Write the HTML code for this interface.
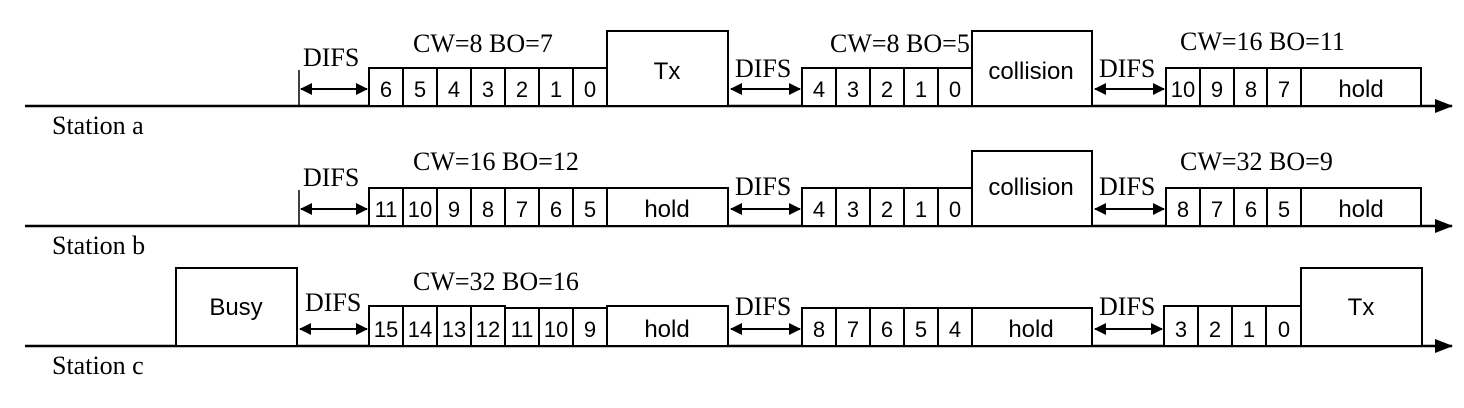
<!DOCTYPE html>
<html><head><meta charset="utf-8"><style>
html,body{margin:0;padding:0;background:#fff;}
svg{display:block}
.s{font-family:"Liberation Sans",sans-serif;font-size:22px;text-anchor:middle}
.b{font-size:24px}
.t{font-family:"Liberation Serif",serif;font-size:26px}
rect{fill:#fff;stroke:#000;stroke-width:2}
line{stroke:#000;stroke-width:2.5}
</style></head><body>
<svg width="1464" height="408" viewBox="0 0 1464 408" xmlns="http://www.w3.org/2000/svg">
<defs>
<marker id="ah" markerWidth="12" markerHeight="12" refX="11" refY="6" orient="auto" markerUnits="userSpaceOnUse"><path d="M0,0 L12,6 L0,12 z" fill="#000"/></marker>
<marker id="al" markerWidth="12" markerHeight="12" refX="11" refY="6" orient="auto-start-reverse" markerUnits="userSpaceOnUse"><path d="M0,0 L12,6 L0,12 z" fill="#000"/></marker>
<marker id="big" markerWidth="18" markerHeight="14" refX="17" refY="7" orient="auto" markerUnits="userSpaceOnUse"><path d="M0,0 L18,7 L0,14 z" fill="#000"/></marker>
</defs>

<!-- ROW A base 106 -->
<g>
<line x1="25" y1="106" x2="1452" y2="106" marker-end="url(#big)"/>
<text class="t" x="52" y="134">Station a</text>
<line x1="299" y1="70" x2="299" y2="106" style="stroke-width:1.5"/>
<line x1="301" y1="89" x2="367" y2="89" style="stroke-width:2" marker-start="url(#al)" marker-end="url(#ah)"/>
<text class="t" x="303" y="66">DIFS</text>
<text class="t" x="413" y="52">CW=8 BO=7</text>
<rect x="369" y="68" width="34" height="38"/><text class="s" x="386" y="97">6</text>
<rect x="403" y="68" width="34" height="38"/><text class="s" x="420" y="97">5</text>
<rect x="437" y="68" width="34" height="38"/><text class="s" x="454" y="97">4</text>
<rect x="471" y="68" width="34" height="38"/><text class="s" x="488" y="97">3</text>
<rect x="505" y="68" width="34" height="38"/><text class="s" x="522" y="97">2</text>
<rect x="539" y="68" width="34" height="38"/><text class="s" x="556" y="97">1</text>
<rect x="573" y="68" width="34" height="38"/><text class="s" x="590" y="97">0</text>
<rect x="607" y="31" width="121" height="75"/><text class="s b" x="667" y="79">Tx</text>
<line x1="731" y1="89" x2="800" y2="89" style="stroke-width:2" marker-start="url(#al)" marker-end="url(#ah)"/>
<text class="t" x="735" y="77">DIFS</text>
<text class="t" x="830" y="52">CW=8 BO=5</text>
<rect x="802" y="68" width="34" height="38"/><text class="s" x="819" y="97">4</text>
<rect x="836" y="68" width="34" height="38"/><text class="s" x="853" y="97">3</text>
<rect x="870" y="68" width="34" height="38"/><text class="s" x="887" y="97">2</text>
<rect x="904" y="68" width="34" height="38"/><text class="s" x="921" y="97">1</text>
<rect x="938" y="68" width="34" height="38"/><text class="s" x="955" y="97">0</text>
<rect x="972" y="31" width="120" height="75"/><text class="s b" x="1031" y="79">collision</text>
<line x1="1095" y1="89" x2="1164" y2="89" style="stroke-width:2" marker-start="url(#al)" marker-end="url(#ah)"/>
<text class="t" x="1099" y="77">DIFS</text>
<text class="t" x="1180" y="50">CW=16 BO=11</text>
<rect x="1166" y="68" width="34" height="38"/><text class="s" x="1183" y="97">10</text>
<rect x="1200" y="68" width="34" height="38"/><text class="s" x="1217" y="97">9</text>
<rect x="1234" y="68" width="33" height="38"/><text class="s" x="1251" y="97">8</text>
<rect x="1267" y="68" width="34" height="38"/><text class="s" x="1284" y="97">7</text>
<rect x="1301" y="68" width="120" height="38"/><text class="s b" x="1361" y="97">hold</text>
</g>

<!-- ROW B base 226 -->
<g>
<line x1="25" y1="226" x2="1452" y2="226" marker-end="url(#big)"/>
<text class="t" x="52" y="254">Station b</text>
<line x1="299" y1="190" x2="299" y2="226" style="stroke-width:1.5"/>
<line x1="301" y1="209" x2="367" y2="209" style="stroke-width:2" marker-start="url(#al)" marker-end="url(#ah)"/>
<text class="t" x="303" y="186">DIFS</text>
<text class="t" x="413" y="170">CW=16 BO=12</text>
<rect x="369" y="188" width="34" height="38"/><text class="s" x="386" y="217">11</text>
<rect x="403" y="188" width="34" height="38"/><text class="s" x="420" y="217">10</text>
<rect x="437" y="188" width="34" height="38"/><text class="s" x="454" y="217">9</text>
<rect x="471" y="188" width="34" height="38"/><text class="s" x="488" y="217">8</text>
<rect x="505" y="188" width="34" height="38"/><text class="s" x="522" y="217">7</text>
<rect x="539" y="188" width="34" height="38"/><text class="s" x="556" y="217">6</text>
<rect x="573" y="188" width="34" height="38"/><text class="s" x="590" y="217">5</text>
<rect x="607" y="188" width="121" height="38"/><text class="s b" x="667" y="217">hold</text>
<line x1="731" y1="209" x2="800" y2="209" style="stroke-width:2" marker-start="url(#al)" marker-end="url(#ah)"/>
<text class="t" x="735" y="195">DIFS</text>
<rect x="802" y="188" width="34" height="38"/><text class="s" x="819" y="217">4</text>
<rect x="836" y="188" width="34" height="38"/><text class="s" x="853" y="217">3</text>
<rect x="870" y="188" width="34" height="38"/><text class="s" x="887" y="217">2</text>
<rect x="904" y="188" width="34" height="38"/><text class="s" x="921" y="217">1</text>
<rect x="938" y="188" width="34" height="38"/><text class="s" x="955" y="217">0</text>
<rect x="972" y="151" width="120" height="75"/><text class="s b" x="1031" y="195">collision</text>
<line x1="1095" y1="209" x2="1164" y2="209" style="stroke-width:2" marker-start="url(#al)" marker-end="url(#ah)"/>
<text class="t" x="1099" y="195">DIFS</text>
<text class="t" x="1180" y="170">CW=32 BO=9</text>
<rect x="1166" y="188" width="34" height="38"/><text class="s" x="1183" y="217">8</text>
<rect x="1200" y="188" width="34" height="38"/><text class="s" x="1217" y="217">7</text>
<rect x="1234" y="188" width="33" height="38"/><text class="s" x="1251" y="217">6</text>
<rect x="1267" y="188" width="34" height="38"/><text class="s" x="1284" y="217">5</text>
<rect x="1301" y="188" width="120" height="38"/><text class="s b" x="1361" y="217">hold</text>
</g>

<!-- ROW C base 346 -->
<g>
<line x1="25" y1="346" x2="1452" y2="346" marker-end="url(#big)"/>
<text class="t" x="52" y="374">Station c</text>
<rect x="176" y="268" width="121" height="78"/><text class="s b" x="236" y="315">Busy</text>
<line x1="300" y1="329" x2="367" y2="329" style="stroke-width:2" marker-start="url(#al)" marker-end="url(#ah)"/>
<text class="t" x="305" y="311">DIFS</text>
<text class="t" x="413" y="290">CW=32 BO=16</text>
<rect x="369" y="306" width="34" height="40"/><text class="s" x="386" y="337">15</text>
<rect x="403" y="306" width="34" height="40"/><text class="s" x="420" y="337">14</text>
<rect x="437" y="306" width="34" height="40"/><text class="s" x="454" y="337">13</text>
<rect x="471" y="306" width="34" height="40"/><text class="s" x="488" y="337">12</text>
<rect x="505" y="308" width="34" height="38"/><text class="s" x="522" y="337">11</text>
<rect x="539" y="308" width="34" height="38"/><text class="s" x="556" y="337">10</text>
<rect x="573" y="308" width="34" height="38"/><text class="s" x="590" y="337">9</text>
<rect x="607" y="306" width="121" height="40"/><text class="s b" x="667" y="337">hold</text>
<line x1="731" y1="329" x2="800" y2="329" style="stroke-width:2" marker-start="url(#al)" marker-end="url(#ah)"/>
<text class="t" x="735" y="315">DIFS</text>
<rect x="802" y="308" width="34" height="38"/><text class="s" x="819" y="337">8</text>
<rect x="836" y="308" width="34" height="38"/><text class="s" x="853" y="337">7</text>
<rect x="870" y="308" width="34" height="38"/><text class="s" x="887" y="337">6</text>
<rect x="904" y="308" width="34" height="38"/><text class="s" x="921" y="337">5</text>
<rect x="938" y="308" width="34" height="38"/><text class="s" x="955" y="337">4</text>
<rect x="972" y="308" width="120" height="38"/><text class="s b" x="1031" y="337">hold</text>
<line x1="1095" y1="329" x2="1162" y2="329" style="stroke-width:2" marker-start="url(#al)" marker-end="url(#ah)"/>
<text class="t" x="1099" y="315">DIFS</text>
<rect x="1164" y="306" width="34" height="40"/><text class="s" x="1181" y="337">3</text>
<rect x="1198" y="306" width="34" height="40"/><text class="s" x="1215" y="337">2</text>
<rect x="1232" y="306" width="34" height="40"/><text class="s" x="1249" y="337">1</text>
<rect x="1266" y="306" width="35" height="40"/><text class="s" x="1284" y="337">0</text>
<rect x="1301" y="268" width="121" height="78"/><text class="s b" x="1361" y="315">Tx</text>
</g>
</svg>
</body></html>
